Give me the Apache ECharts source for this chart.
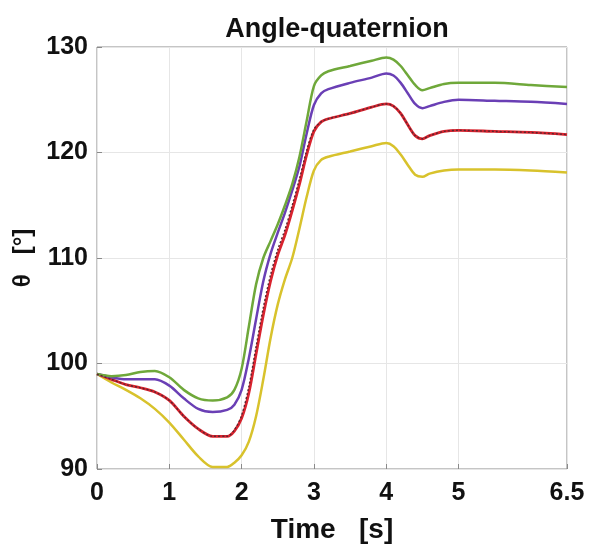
<!DOCTYPE html>
<html>
<head>
<meta charset="utf-8">
<script src="https://cdn.jsdelivr.net/npm/echarts@6/dist/echarts.min.js"></script>
<style>
	html, body { margin: 0; padding: 0; background: #fff; }
	#chart { width: 590px; height: 555px; }
</style>
</head>
<body>
<div id="chart"></div>
<script>
// time samples [s]
const timeS = [0, 0.2, 0.4, 0.6, 0.8, 1.0, 1.2, 1.4, 1.6, 1.8, 1.9, 2.0, 2.1, 2.2, 2.3, 2.4, 2.5, 2.6, 2.7, 2.8, 2.9, 3.0, 3.1, 3.2, 3.5, 3.8, 4.0, 4.1, 4.2, 4.3, 4.4, 4.5, 4.6, 4.8, 5.0, 5.5, 6.0, 6.5];

// angle [deg]
const greenAngle = [99.0, 98.8, 98.9, 99.2, 99.3, 98.7, 97.5, 96.7, 96.5, 96.8, 97.5, 99.5, 103.5, 107.5, 110.0, 111.6, 113.2, 115.0, 117.0, 119.6, 123.0, 126.3, 127.3, 127.7, 128.2, 128.7, 129.0, 128.8, 128.2, 127.3, 126.4, 125.9, 126.1, 126.5, 126.6, 126.6, 126.4, 126.2];
const purpleAngle = [99.0, 98.7, 98.5, 98.5, 98.5, 97.9, 96.7, 95.7, 95.4, 95.6, 96.1, 97.5, 100.5, 104.2, 107.8, 110.4, 112.4, 114.3, 116.4, 118.7, 121.8, 124.5, 125.6, 126.0, 126.6, 127.1, 127.5, 127.3, 126.6, 125.6, 124.6, 124.2, 124.4, 124.8, 125.0, 124.9, 124.8, 124.6];
const redAngle = [99.0, 98.5, 98.0, 97.7, 97.3, 96.5, 95.0, 93.8, 93.1, 93.1, 93.6, 94.8, 97.2, 100.9, 104.6, 107.8, 110.3, 112.2, 114.5, 117.0, 119.8, 122.0, 122.9, 123.2, 123.7, 124.3, 124.6, 124.4, 123.7, 122.6, 121.6, 121.3, 121.6, 122.0, 122.1, 122.0, 121.9, 121.7];
const dottedAngle = [99.0, 98.5, 98.0, 97.7, 97.3, 96.5, 95.0, 93.8, 93.1, 93.1, 93.7, 95.1, 97.8, 101.6, 105.3, 108.4, 110.8, 112.7, 115.0, 117.5, 120.2, 122.2, 122.9, 123.2, 123.7, 124.3, 124.6, 124.4, 123.7, 122.6, 121.6, 121.3, 121.6, 122.0, 122.1, 122.0, 121.9, 121.7];
const yellowAngle = [99.0, 98.2, 97.5, 96.7, 95.7, 94.4, 92.8, 91.2, 90.2, 90.2, 90.6, 91.3, 92.6, 95.0, 98.5, 102.4, 105.6, 108.0, 110.0, 112.8, 115.8, 118.3, 119.3, 119.6, 120.1, 120.6, 120.9, 120.6, 119.8, 118.8, 117.9, 117.7, 118.0, 118.3, 118.4, 118.4, 118.3, 118.1];

const xTicks = [0, 1, 2, 3, 4, 5, 6.5];
const yTicks = [90, 100, 110, 120, 130];

const FONT = "'Liberation Sans', Arial, sans-serif";
const gridColor = "#e6e6e6";
const axisColor = "#8a8a8a";

function pairs(vals) {
	return timeS.map((t, i) => [t, vals[i]]);
}

function line(name, vals, color, width, type) {
	return {
		name,
		type: "line",
		data: pairs(vals),
		smooth: 0.3,
		showSymbol: false,
		lineStyle: { color, width, type: type || "solid" },
		z: type ? 5 : 3,
	};
}

const chart = echarts.init(document.getElementById("chart"));
chart.setOption({
	animation: false,
	textStyle: { fontFamily: FONT },
	title: {
		text: "Angle-quaternion",
		left: 332,
		textAlign: "center",
		top: 11,
		textStyle: { fontFamily: FONT, fontWeight: "bold", fontSize: 27, color: "#111" },
	},
	grid: {
		left: 97, right: 23, top: 47, bottom: 86,
		show: true, borderColor: axisColor, borderWidth: 1,
	},
	xAxis: {
		type: "value",
		min: 0,
		max: 6.5,
		name: "Time   [s]",
		nameLocation: "middle",
		nameGap: 47,
		nameTextStyle: { fontFamily: FONT, fontWeight: "bold", fontSize: 28, color: "#111" },
		axisLine: { show: false },
		axisTick: { show: true, inside: true, length: 5, customValues: xTicks, lineStyle: { color: axisColor } },
		axisLabel: {
			customValues: xTicks,
			margin: 12,
			fontFamily: FONT, fontWeight: "bold", fontSize: 25, color: "#111",
		},
		splitLine: { show: true, lineStyle: { color: gridColor, width: 1 } },
	},
	yAxis: {
		type: "value",
		min: 90,
		max: 130,
		interval: 10,
		name: "θ   [°]",
		nameLocation: "middle",
		nameGap: 62,
		nameRotate: 90,
		nameTextStyle: { fontFamily: FONT, fontWeight: "bold", fontSize: 24, color: "#111" },
		axisLine: { show: false },
		axisTick: { show: true, inside: true, length: 5, lineStyle: { color: axisColor } },
		axisLabel: {
			margin: 9,
			fontFamily: FONT, fontWeight: "bold", fontSize: 25, color: "#111",
			formatter: (v) => (yTicks.includes(v) ? String(v) : ""),
		},
		splitLine: { show: true, lineStyle: { color: gridColor, width: 1 } },
	},
	series: [
		line("yellow", yellowAngle, "#d8c22c", 2.5),
		line("red", redAngle, "#d9232e", 2.8),
		line("dotted", dottedAngle, "#5a2630", 1.4, [2, 2]),
		line("purple", purpleAngle, "#6a3fb5", 2.5),
		line("green", greenAngle, "#6fa83a", 2.5),
	],
});
</script>
</body>
</html>
